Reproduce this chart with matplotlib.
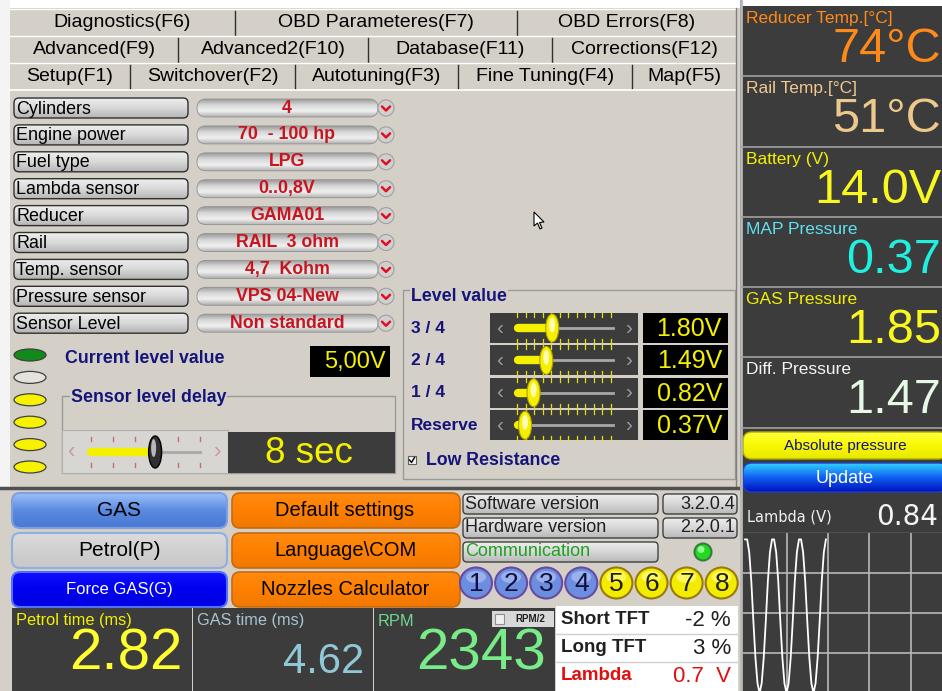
import numpy as np
import matplotlib
matplotlib.use('Agg')
import matplotlib.pyplot as plt
from matplotlib.patches import FancyBboxPatch, Rectangle, Ellipse, Circle, Polygon
from matplotlib.colors import LinearSegmentedColormap

plt.rcParams['font.family'] = ['Liberation Sans', 'DejaVu Sans']

# ---- data ----
tab_row1 = ['Diagnostics(F6)', 'OBD Parameteres(F7)', 'OBD Errors(F8)']
tab_row2 = ['Advanced(F9)', 'Advanced2(F10)', 'Database(F11)', 'Corrections(F12)']
tab_row3 = ['Setup(F1)', 'Switchover(F2)', 'Autotuning(F3)', 'Fine Tuning(F4)', 'Map(F5)']

form_labels = ['Cylinders', 'Engine power', 'Fuel type', 'Lambda sensor', 'Reducer',
               'Rail', 'Temp. sensor', 'Pressure sensor', 'Sensor Level']
form_values = ['4', '70  - 100 hp', 'LPG', '0..0,8V', 'GAMA01', 'RAIL  3 ohm',
               '4,7  Kohm', 'VPS 04-New', 'Non standard']

level_names = ['3 / 4', '2 / 4', '1 / 4', 'Reserve']
level_volts = [1.80, 1.49, 0.82, 0.37]
level_max = 5.0
current_level = '5,00V'
sensor_leds = ['green', 'off', 'yellow', 'yellow', 'yellow', 'yellow']
delay_sec = 8
delay_max = 13.6

readout_labels = ['Reducer Temp.[°C]', 'Rail Temp.[°C]', 'Battery (V)',
                  'MAP Pressure', 'GAS Pressure', 'Diff. Pressure']
readout_values = ['74°C', '51°C', '14.0V', '0.37', '1.85', '1.47']

left_buttons = ['GAS', 'Petrol(P)', 'Force GAS(G)']
mid_buttons = ['Default settings', 'Language\\COM', 'Nozzles Calculator']
version_labels = ['Software version', 'Hardware version', 'Communication']
version_values = ['3.2.0.4', '2.2.0.1', '']
cylinder_ids = ['1', '2', '3', '4', '5', '6', '7', '8']
cylinder_on_gas = [False, False, False, False, True, True, True, True]

bottom_labels = ['Petrol time (ms)', 'GAS time (ms)', 'RPM']
bottom_values = ['2.82', '4.62', '2343']
tft_names = ['Short TFT', 'Long TFT', 'Lambda']
tft_values = ['-2 %', '3 %', '0.7  V']

lambda_now = '0.84'
lambda_trace = [0.96, 0.96, 0.88, 0.70, 0.45, 0.22, 0.06, 0.0, 0.06, 0.22, 0.45, 0.70, 0.88,
                0.96, 0.96, 0.88, 0.70, 0.45, 0.22, 0.06, 0.0, 0.06, 0.22, 0.45, 0.70, 0.88,
                0.96, 0.96, 0.88, 0.70, 0.45, 0.22, 0.06, 0.0, 0.06, 0.22, 0.45, 0.70, 0.88,
                0.96]

# ---- colours ----
PANEL = '#d4d0c8'
DARK = '#3c3c3c'
NAVY = '#14147a'
RED = '#c8141e'

fig = plt.figure(figsize=(9.42, 6.91), dpi=100)
fig.patch.set_facecolor(PANEL)
ax = fig.add_axes([0, 0, 1, 1])
ax.axis('off')


def grad_box(x, y, w, h, colors, r=4, ec='#404040', lw=1.0, z=2):
    patch = FancyBboxPatch((x, y), w, h, boxstyle=f'round,pad=0,rounding_size={r}',
                           fc='none', ec=ec, lw=lw, zorder=z + 0.1)
    ax.add_patch(patch)
    cmap = LinearSegmentedColormap.from_list('g', colors)
    im = ax.imshow(np.linspace(0, 1, 64).reshape(-1, 1), cmap=cmap, extent=(x, x + w, y + h, y),
                   aspect='auto', zorder=z, interpolation='bilinear')
    im.set_clip_path(patch)
    return patch


def box(x, y, w, h, fc, ec='none', lw=1.0, r=0, z=2):
    if r:
        p = FancyBboxPatch((x, y), w, h, boxstyle=f'round,pad=0,rounding_size={r}',
                           fc=fc, ec=ec, lw=lw, zorder=z)
    else:
        p = Rectangle((x, y), w, h, fc=fc, ec=ec, lw=lw, zorder=z)
    ax.add_patch(p)
    return p


def txt(x, y, s, size=11, color='black', ha='left', bold=False, z=5, **kw):
    ax.text(x, y, s, fontsize=size, color=color, ha=ha, va='center',
            fontweight='bold' if bold else 'normal', zorder=z, **kw)


# ---- tabs ----
box(0, 0, 740, 8, 'white', z=1)
box(0, 0, 10, 488, '#f4f4f4', z=1)
tab_rows = [(tab_row1, [10, 235, 517, 736], 8), (tab_row2, [10, 178, 368, 552, 736], 35),
            (tab_row3, [10, 130, 295, 458, 632, 736], 62)]
for labels, edges, top in tab_rows:
    box(10, top, 726, 27, PANEL, z=1.5)
    ax.plot([10, 736], [top + 0.5, top + 0.5], color='white', lw=1, zorder=3)
    for i, lab in enumerate(labels):
        txt((edges[i] + edges[i + 1]) / 2, top + 14, lab, size=14, ha='center')
        if i > 0:
            ax.plot([edges[i], edges[i]], [top + 3, top + 27], color='#303030', lw=1, zorder=3)
ax.plot([10, 736], [90, 90], color='white', lw=1.2, zorder=3)
ax.plot([736, 736], [8, 488], color='#808080', lw=1, zorder=3)

# ---- setup form ----
for i, (lab, val) in enumerate(zip(form_labels, form_values)):
    yc = 108 + 26.9 * i
    grad_box(14, yc - 10, 174, 20, ['#eeeeee', '#d8d8d8', '#b4b4b4'], r=5, ec='#303030')
    txt(16, yc + 1, lab, size=12.9)
    grad_box(197, yc - 9, 181, 18, ['#9c9c9c', '#d8d8d8', '#f0f0f0', '#b0b0b0'], r=9, ec='#909090', lw=0.6)
    txt(287, yc, val, size=12.8, color=RED, ha='center', bold=True)
    ax.add_patch(Circle((386, yc), 8, fc='#d0d0d0', ec='#a0a0a0', lw=0.8, zorder=3))
    ax.plot([382, 386, 390], [yc - 1.5, yc + 2.5, yc - 1.5], color='#e01020', lw=1.8, zorder=4,
            solid_capstyle='round')

# mouse cursor
ax.add_patch(Polygon([[534, 212], [534, 226], [537.5, 223], [540, 229], [542, 228], [539.5, 222.5],
                      [544, 222]], closed=True, fc='white', ec='black', lw=0.8, zorder=6))

# ---- current level / LEDs ----
led_fc = {'green': '#128a1a', 'off': '#e4e2dc', 'yellow': '#f6f200'}
for i, state in enumerate(sensor_leds):
    yc = 355 + 22.4 * i
    ax.add_patch(Ellipse((30, yc), 32, 12, fc=led_fc[state], ec='#404040', lw=0.9, zorder=3))
txt(65, 358, 'Current level value', size=12.8, color=NAVY, bold=True)
box(310, 346, 80, 31, 'black', z=2)
txt(386, 362, current_level, size=17, color='#f4f000', ha='right')

# sensor level delay
ax.add_patch(Rectangle((62, 396), 333, 77, fc='none', ec='#9a9a9a', lw=1, zorder=2))
txt(71, 397, 'Sensor level delay', size=12.8, color=NAVY, bold=True, bbox=dict(fc=PANEL, ec='none', pad=0.5))
box(62, 430, 166, 43, '#d8d6d2', ec='#b0b0b0', lw=0.8, z=2)
trk0, trk1 = 91, 200
kx = trk0 + (trk1 - trk0) * delay_sec / delay_max
for tx in np.linspace(trk0, trk1, 6):
    if abs(tx - kx) > 6:
        ax.plot([tx, tx], [437, 441], color='#c07070', lw=1, zorder=3)
        ax.plot([tx, tx], [463, 467], color='#c07070', lw=1, zorder=3)
ax.plot([trk0, trk1], [452, 452], color='#a8a8a8', lw=2, zorder=3)
ax.plot([trk0, kx], [452, 452], color='#f4f000', lw=6, zorder=3, solid_capstyle='round')
ax.add_patch(Ellipse((kx, 452), 13, 32, fc='#303030', ec='black', lw=1, zorder=4))
ax.add_patch(Ellipse((kx - 1.5, 448), 5, 18, fc='#b8b8b8', ec='none', zorder=4.1))
txt(72, 452, '‹', size=16, color='#d09898', ha='center')
txt(218, 452, '›', size=16, color='#d09898', ha='center')
box(228, 432, 167, 41, DARK, z=2)
txt(309, 453, f'{delay_sec} sec', size=26.5, color='#f4f000', ha='center')

# ---- level value group ----
ax.add_patch(Rectangle((403, 290), 332, 189, fc='none', ec='#9a9a9a', lw=1, zorder=2))
txt(411, 296, 'Level value', size=12.8, color=NAVY, bold=True, bbox=dict(fc=PANEL, ec='none', pad=0.5))
s0, s1 = 518, 613
for i, (name, v) in enumerate(zip(level_names, level_volts)):
    yc = 328 + 32.4 * i
    txt(411, yc, name, size=12.5, color=NAVY, bold=True)
    box(490, yc - 15, 148, 30, DARK, z=2)
    for tx in np.linspace(s0 - 1, s1 - 2, 12):
        ax.plot([tx, tx], [yc - 15, yc - 11], color='#e8e000', lw=0.9, zorder=3)
        ax.plot([tx, tx], [yc + 11, yc + 15], color='#e8e000', lw=0.9, zorder=3)
    kx = s0 + (s1 - s0) * v / level_max
    ax.plot([s0, s1], [yc, yc], color='#a8a8a8', lw=2, zorder=3)
    ax.plot([s0, kx], [yc, yc], color='#f4f000', lw=6, zorder=3, solid_capstyle='round')
    ax.add_patch(Ellipse((kx, yc), 13, 28, fc='#f6f000', ec='#b0a000', lw=0.8, zorder=4))
    ax.add_patch(Ellipse((kx, yc - 3), 6, 15, fc='#fffcb0', ec='none', zorder=4.1))
    txt(500, yc, '‹', size=15, color='#9a9a9a', ha='center')
    txt(629, yc, '›', size=15, color='#9a9a9a', ha='center')
    box(643, yc - 15, 85, 30, 'black', z=2)
    txt(722, yc + 1, f'{v:.2f}V', size=18, color='#f4f000', ha='right')
box(408, 456, 8, 8, '#f4f4f4', ec='#606060', lw=0.8, z=3)
ax.plot([409.5, 411.5, 414.5], [460, 462.5, 457.5], color='black', lw=1, zorder=4)
txt(426, 460, 'Low Resistance', size=12.8, color=NAVY, bold=True)

# ---- bottom section ----
ax.plot([0, 740], [488, 488], color='#505050', lw=2.5, zorder=3)
btn_y = [493, 533, 572]
btn_styles = [(['#9cc0f8', '#5a8ae0', '#4a78d4'], '#7fa0e0', 'black', 15),
              (['#dcdcdc', '#d0d0d0', '#c8c8c8'], '#90b0e0', 'black', 15),
              (['#1010ff', '#0000ee', '#0000e0'], '#5070ff', 'white', 12)]
for lab, y0, (cols, ec, tc, fs) in zip(left_buttons, btn_y, btn_styles):
    grad_box(12, y0, 215, 35, cols, r=8, ec=ec, lw=1.5)
    txt(119, y0 + 17.5, lab, size=fs, color=tc, ha='center')
for lab, y0 in zip(mid_buttons, btn_y):
    grad_box(232, y0, 228, 35, ['#ff8a10', '#ff8000', '#f07800'], r=8, ec='#c86a10', lw=1.2)
    txt(345, y0 + 17.5, lab, size=14.5, ha='center')

for i, (lab, val) in enumerate(zip(version_labels, version_values)):
    yc = 504 + 24 * i
    grad_box(463, yc - 10, 195, 20, ['#eeeeee', '#d6d6d6', '#b8b8b8'], r=4, ec='#404040')
    txt(465, yc, lab, size=13, color='#20a020' if lab == 'Communication' else '#202020')
    if val:
        grad_box(663, yc - 10, 74, 20, ['#eeeeee', '#d6d6d6', '#b8b8b8'], r=4, ec='#404040')
        txt(735, yc, val, size=13, color='#202020', ha='right')
ax.add_patch(Circle((703, 552), 8.5, fc='#22d822', ec='#3a7a3a', lw=1.5, zorder=3))
ax.add_patch(Circle((701, 549.5), 3.5, fc='#90ff90', ec='none', zorder=3.1))

for i, (cid, gas) in enumerate(zip(cylinder_ids, cylinder_on_gas)):
    cx = 476 + 35.1 * i
    fc, ec, hl = ('#f4ec00', '#9a7a10', '#ffffa0') if gas else ('#6c8ee0', '#6a4aa0', '#b8c8f4')
    ax.add_patch(Ellipse((cx, 583), 32, 31, fc=fc, ec=ec, lw=1.5, zorder=3))
    ax.add_patch(Ellipse((cx, 577), 20, 12, fc=hl, ec='none', alpha=0.6, zorder=3.1))
    txt(cx, 584, cid, size=19, color='#101040' if not gas else '#202000', ha='center')

# readouts along the bottom
bx = [12, 193, 374, 556]
lab_cols = ['#f4f000', '#a8c4d4', '#70d890']
val_cols = ['#ffff30', '#90c8d8', '#78ec88']
val_sizes = [42, 30, 42]
val_y = [655, 662, 655]
for i, (lab, val) in enumerate(zip(bottom_labels, bottom_values)):
    box(bx[i], 608, bx[i + 1] - bx[i] - 1, 83, DARK, z=2)
    txt(bx[i] + 4, 621, lab, size=11.8, color=lab_cols[i])
    txt(bx[i + 1] - 10, val_y[i], val, size=val_sizes[i], color=val_cols[i], ha='right')
box(492, 611, 62, 16, '#d8d8d8', z=3)
box(495, 614, 9, 10, '#f0f0f0', ec='#909090', lw=0.8, z=4)
txt(530, 619.5, 'RPM/2', size=7, color='#202020', ha='center', bold=True)

box(556, 606, 182, 85, 'white', z=2)
for i, (name, val) in enumerate(zip(tft_names, tft_values)):
    yc = 620 + 28 * i
    col = '#e01010' if name == 'Lambda' else '#202020'
    txt(561, yc, name, size=13.5, color=col, bold=True)
    txt(731, yc, val, size=16, color=col, ha='right')
    if i:
        ax.plot([556, 738], [yc - 14, yc - 14], color='#d0d0d0', lw=1, zorder=3)

# ---- right readout column ----
box(740, 0, 202, 495, DARK, z=1)
ax.plot([741, 741], [0, 691], color='#b8b8b8', lw=2, zorder=3)
r_lab_cols = ['#ff8a1a', '#f0c890', '#f4f000', '#60e0f0', '#f4f000', '#f4f4f4']
r_val_cols = ['#ff8a1a', '#ecc88c', '#f8f820', '#20f0e0', '#f8f820', '#e6f8e6']
sec_edges = [6, 76, 147, 217, 287, 357, 428]
for i, (lab, val) in enumerate(zip(readout_labels, readout_values)):
    top = sec_edges[i]
    if i:
        ax.plot([742, 942], [top, top], color='#a0a0a0', lw=1.2, zorder=3)
    txt(746, top + 12, lab, size=12.5, color=r_lab_cols[i])
    txt(941, top + 43, val, size=35, color=r_val_cols[i], ha='right')
ax.plot([742, 942], [428, 428], color='#a0a0a0', lw=1.2, zorder=3)
box(742, 0, 200, 6, 'white', z=1.5)
grad_box(743, 432, 205, 27, ['#ffff40', '#f8f800', '#e8e800'], r=9, ec='#b0b000')
txt(845, 445.5, 'Absolute pressure', size=11, color=NAVY, ha='center')
grad_box(743, 463, 205, 29, ['#30d0ff', '#1060f0', '#0010c0'], r=9, ec='#2040c0')
txt(845, 478, 'Update', size=13, color='white', ha='center')

# lambda header + plot
box(742, 495, 200, 196, DARK, z=1)
ax.text(747, 517, 'Lambda (V)', fontsize=10.5, color='#f0f0f0', va='center', family='DejaVu Sans', zorder=5)
ax.text(938, 517, lambda_now, fontsize=20, color='#f4f4f4', va='center', ha='right',
        family='DejaVu Sans', zorder=5)
ax.plot([742, 942], [533, 533], color='#b0b0b0', lw=1, zorder=3)

ax.set_xlim(0, 942)
ax.set_ylim(691, 0)

lax = fig.add_axes([743 / 942, 0, 199 / 942, 158 / 691])
lax.set_facecolor(DARK)
lax.plot(np.arange(len(lambda_trace)), lambda_trace, color='white', lw=1.3)
lax.set_xlim(-1, 95)
lax.set_ylim(0.0125, 1.0)
for gx in [20, 40, 60, 80]:
    lax.axvline(gx, color='#b8b8b8', lw=1.2, zorder=0)
for gy in [0.25, 0.5, 0.75]:
    lax.axhline(gy, color='#b8b8b8', lw=1.2, zorder=0)
lax.set_xticks([])
lax.set_yticks([])
for sp in lax.spines.values():
    sp.set_visible(False)

fig.savefig('out.png', dpi=100, facecolor=fig.get_facecolor())
